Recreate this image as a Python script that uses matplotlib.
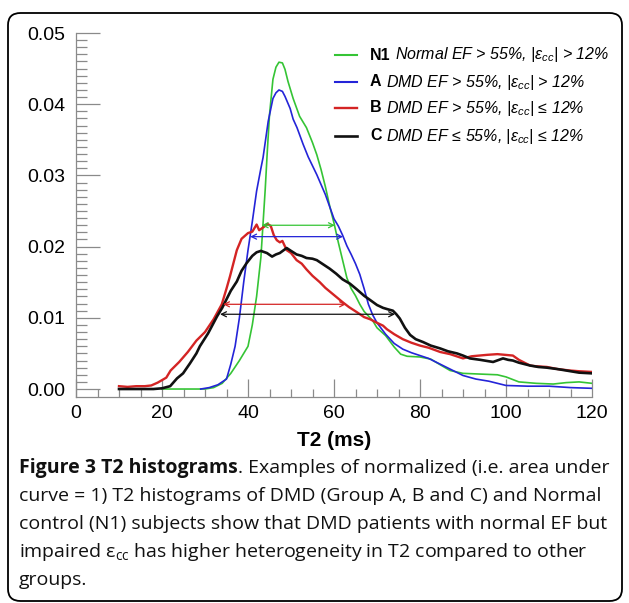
import numpy as np
import matplotlib
matplotlib.use('Agg')
import matplotlib.pyplot as plt
from matplotlib.ticker import MultipleLocator
from matplotlib.patches import FancyBboxPatch
from matplotlib.lines import Line2D

plt.rcParams['font.family'] = ['Liberation Sans', 'DejaVu Sans']
plt.rcParams['mathtext.fontset'] = 'custom'
plt.rcParams['mathtext.rm'] = 'Open Sans'
plt.rcParams['mathtext.it'] = 'Liberation Sans:italic'
plt.rcParams['mathtext.bf'] = 'Liberation Sans:bold'

# T2 histograms (T2 in ms, normalized count)
n1_x = [20, 30, 32, 34, 36, 38, 40, 41, 42, 43, 44, 44.5, 45, 45.8, 46.5, 47.2, 48, 48.6, 49.3,
        50.5, 52, 53.6, 55, 56, 57, 58, 59, 60, 61, 62, 63, 64, 65, 66, 67, 69, 70, 72, 74,
        75.5, 77, 80, 82.5, 85, 87, 90, 94, 98, 100, 103, 107, 111, 114, 117, 120]
n1_y = [0, 0, 0.0002, 0.0008, 0.0022, 0.0040, 0.0060, 0.0090, 0.0130, 0.0185, 0.0280, 0.0335,
        0.0385, 0.0435, 0.0452, 0.0459, 0.0458, 0.0449, 0.0432, 0.0408, 0.0383, 0.0367, 0.0346,
        0.0329, 0.0308, 0.0284, 0.0257, 0.0233, 0.0206, 0.0181, 0.0156, 0.0141, 0.0131, 0.0119,
        0.0109, 0.0096, 0.0086, 0.0075, 0.0059, 0.0049, 0.0046, 0.0045, 0.0042, 0.0033, 0.0026,
        0.0022, 0.0021, 0.0020, 0.0017, 0.0010, 0.0008, 0.0007, 0.0009, 0.0010, 0.0008]

a_x = [29, 31, 33, 35, 36, 37, 38, 39, 40, 41, 42, 43, 43.5, 44.7, 45.8, 46.5, 47.2, 48, 48.6,
       49.8, 50.5, 51.4, 52.8, 54, 56, 58, 59, 60, 61, 62, 63, 64, 65, 66, 67, 68, 69, 70, 72,
       74, 76, 78, 80, 82, 84, 86, 88, 90, 93, 96, 100, 105, 110, 115, 120]
a_y = [0, 0.0002, 0.0006, 0.0014, 0.0035, 0.0060, 0.0100, 0.0150, 0.0195, 0.0235, 0.0278,
       0.0310, 0.0325, 0.0376, 0.0408, 0.0416, 0.0420, 0.0418, 0.0411, 0.0394, 0.0379, 0.0367,
       0.0344, 0.0326, 0.0301, 0.0273, 0.0256, 0.0239, 0.0229, 0.0216, 0.0201, 0.0189, 0.0176,
       0.0161, 0.0141, 0.0119, 0.0104, 0.0093, 0.0077, 0.0064, 0.0056, 0.0051, 0.0047, 0.0043,
       0.0037, 0.0031, 0.0025, 0.0019, 0.0014, 0.0011, 0.0005, 0.0004, 0.0004, 0.0002, 0.0001]

b_x = [10, 12, 14, 16, 17.5, 19, 21, 22, 24, 26, 28, 30, 32, 33.9, 35, 35.8, 37.4, 38.5, 40,
       41, 42, 42.6, 43.3, 44, 44.5, 45.3, 46, 46.7, 47.4, 48, 49, 50, 51.3, 52.5, 53.6, 55,
       56.7, 58, 59.8, 61, 62, 63.5, 65.3, 67, 68.4, 70, 71.4, 72.3, 74, 76, 78, 80, 82, 84.7,
       87, 90, 92, 95.6, 98, 101.6, 103, 105.6, 107, 109.5, 112, 114.9, 117, 120]
b_y = [0.0004, 0.0003, 0.0004, 0.0004, 0.0005, 0.0009, 0.0016, 0.0026, 0.0038, 0.0052,
       0.0068, 0.0080, 0.0098, 0.0119, 0.0141, 0.0158, 0.0195, 0.0211, 0.0219, 0.0221, 0.0231,
       0.0223, 0.0226, 0.0229, 0.0232, 0.0229, 0.0216, 0.0209, 0.0206, 0.0208, 0.0195, 0.0191,
       0.0181, 0.0176, 0.0168, 0.0159, 0.0150, 0.0142, 0.0133, 0.0127, 0.0122, 0.0115, 0.0108,
       0.0101, 0.0098, 0.0093, 0.0089, 0.0084, 0.0077, 0.0070, 0.0065, 0.0061, 0.0058, 0.0052,
       0.0049, 0.0043, 0.0046, 0.0048, 0.0049, 0.0047, 0.0041, 0.0033, 0.0032, 0.0031, 0.0028,
       0.0026, 0.0025, 0.0024]

c_x = [10, 14, 18, 20, 21.9, 23.5, 24.9, 26.5, 28, 28.8, 30.7, 32.8, 34, 35, 36, 37.4, 38.5,
       39.7, 41, 42, 43, 44.4, 45.6, 46.5, 47.4, 48.3, 49, 50, 51.3, 52.5, 53.6, 55, 56, 57.5,
       59, 60.5, 62, 63.7, 65.3, 67, 68.4, 70, 71.4, 72.5, 73.7, 74.5, 75.3, 76.5, 77.7, 79,
       80.7, 82.5, 84.7, 86.5, 88.6, 90, 91.6, 94, 97, 99.3, 100.5, 101.6, 103, 105.6, 107.5,
       109.5, 112, 114, 117, 120]
c_y = [0, 0, 0, 0.0001, 0.0004, 0.0015, 0.0022, 0.0036, 0.0050, 0.0060, 0.0078, 0.0102,
       0.0114, 0.0126, 0.0138, 0.0151, 0.0166, 0.0177, 0.0187, 0.0192, 0.0194, 0.0191, 0.0186,
       0.0189, 0.0191, 0.0195, 0.0198, 0.0194, 0.0189, 0.0187, 0.0184, 0.0183, 0.0181, 0.0175,
       0.0169, 0.0162, 0.0154, 0.0148, 0.0140, 0.0131, 0.0125, 0.0118, 0.0114, 0.0112, 0.0110,
       0.0105, 0.0099, 0.0086, 0.0076, 0.0070, 0.0066, 0.0061, 0.0057, 0.0053, 0.0050, 0.0047,
       0.0043, 0.0041, 0.0038, 0.0043, 0.0041, 0.0040, 0.0037, 0.0033, 0.0031, 0.0030, 0.0028,
       0.0026, 0.0023, 0.0022]

# full width at half maximum arrows: (left, right, height)
fwhm_n1 = (43.2, 60.2, 0.0230)
fwhm_a = (40.5, 62.1, 0.0214)
fwhm_b = (34.2, 62.8, 0.0119)
fwhm_c = (33.5, 74.2, 0.0105)

groups = ['N1', 'A', 'B', 'C']
group_desc = [
    r'Normal EF > 55%, |$\varepsilon_{cc}$| > 12%',
    r'DMD EF > 55%, |$\varepsilon_{cc}$| > 12%',
    r'DMD EF > 55%, |$\varepsilon_{cc}$| ≤ 12%',
    r'DMD EF ≤ 55%, |$\varepsilon_{cc}$| ≤ 12%',
]
colors = ['#35c435', '#2424d8', '#d42424', '#111111']
widths = [1.2, 1.2, 1.7, 1.9]

W, H = 629, 603
fig = plt.figure(figsize=(W / 100, H / 100), dpi=100)


def fx(px):
    return px / W


def fy(py):
    return 1 - py / H


ax = fig.add_axes([fx(76), fy(397), fx(592) - fx(76), fy(33) - fy(397)])

series = [(n1_x, n1_y), (a_x, a_y), (b_x, b_y), (c_x, c_y)]
arrows = [fwhm_n1, fwhm_a, fwhm_b, fwhm_c]
for (xs, ys), (x1, x2, yh), col, lw in zip(series, arrows, colors, widths):
    ax.plot(xs, ys, color=col, lw=lw, zorder=3)
    ax.annotate('', xy=(x2, yh), xytext=(x1, yh),
                arrowprops=dict(arrowstyle='<->', color=col, lw=0.9,
                                shrinkA=0, shrinkB=0, mutation_scale=9), zorder=4)

ax.set_xlim(0, 120)
ax.set_ylim(-0.00112, 0.05)
ax.set_xticks(range(0, 121, 20))
ax.xaxis.set_minor_locator(MultipleLocator(5))
ax.set_yticks(np.arange(0, 0.0501, 0.01))
ax.set_yticks(np.arange(0, 0.0501, 0.001), minor=True)
ax.set_yticklabels(['%.2f' % v for v in np.arange(0, 0.0501, 0.01)])

for s in ['top', 'right']:
    ax.spines[s].set_visible(False)
for s in ['left', 'bottom']:
    ax.spines[s].set_color('#8a8a8a')
    ax.spines[s].set_linewidth(0.9)

ax.tick_params(axis='x', which='major', direction='in', length=13, width=0.9,
               color='#8a8a8a', labelsize=14, pad=6)
ax.tick_params(axis='x', which='minor', direction='in', length=6, width=0.9, color='#8a8a8a')
ax.tick_params(axis='y', which='major', direction='in', length=17, width=0.9,
               color='#8a8a8a', labelsize=14, pad=8)
ax.tick_params(axis='y', which='minor', direction='in', length=8, width=0.9, color='#8a8a8a')

ax.set_xlabel('T2 (ms)', fontsize=15, fontweight='bold', labelpad=6)

# legend drawn row by row
row_y = [55, 82, 108, 136]
for g, d, col, lw, ry in zip(groups, group_desc, colors, widths, row_y):
    fig.add_artist(Line2D([fx(335), fx(357)], [fy(ry), fy(ry)], color=col, lw=max(lw, 1.5)))
    t1 = fig.text(fx(370), fy(ry), g, fontsize=11.5, fontweight='bold', va='center')
    fig.canvas.draw()
    bb = t1.get_window_extent()
    fig.text(fx(370) + (bb.width + 4) / W, fy(ry), d, fontsize=11.5, style='italic', va='center')

# caption
cap_font = dict(family=['Open Sans', 'DejaVu Sans'], fontsize=14, color='#111111', va='center')
tb = fig.text(fx(19), fy(468), 'Figure 3 T2 histograms', fontweight='bold', **cap_font)
fig.canvas.draw()
bw = tb.get_window_extent().width
fig.text(fx(19) + bw / W, fy(468), '. Examples of normalized (i.e. area under', **cap_font)
fig.text(fx(19), fy(496), 'curve = 1) T2 histograms of DMD (Group A, B and C) and Normal', **cap_font)
fig.text(fx(19), fy(524), 'control (N1) subjects show that DMD patients with normal EF but', **cap_font)
fig.text(fx(19), fy(552), r'impaired ε$_{\rm cc}$ has higher heterogeneity in T2 compared to other', **cap_font)
fig.text(fx(19), fy(580), 'groups.', **cap_font)

# rounded frame around the figure
frame = FancyBboxPatch((fx(8), fy(601)), fx(622) - fx(8), fy(13) - fy(601),
                       boxstyle='round,pad=0,rounding_size=0.02', transform=fig.transFigure,
                       fill=False, edgecolor='black', lw=1.3)
fig.add_artist(frame)

fig.savefig('out.png', dpi=100)
